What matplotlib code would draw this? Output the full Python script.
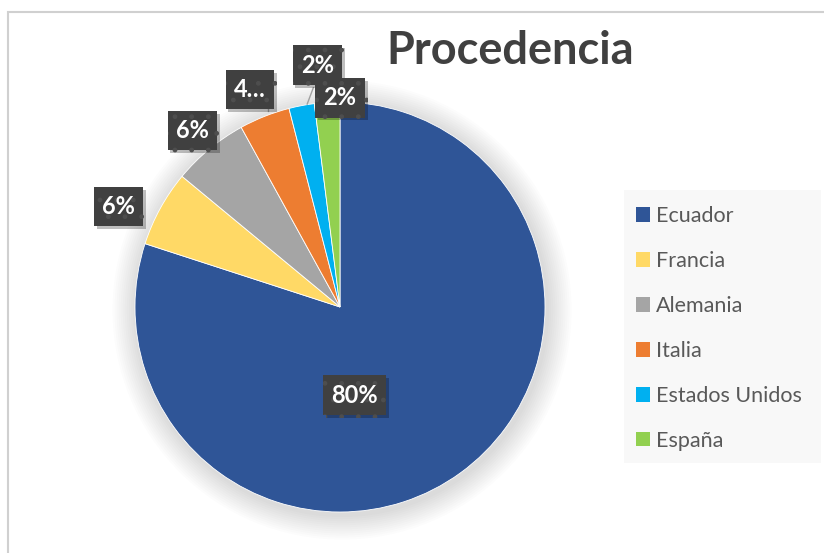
import numpy as np
import matplotlib
matplotlib.use("Agg")
import matplotlib.pyplot as plt
from matplotlib.patches import Rectangle, Patch
import matplotlib.patheffects as pe

plt.rcParams['font.family'] = ['Lato', 'DejaVu Sans']
plt.rcParams['hatch.linewidth'] = 1.0

# data
paises = ['Ecuador', 'Francia', 'Alemania', 'Italia', 'Estados Unidos', 'España']
valores = [80, 6, 6, 4, 2, 2]
etiquetas = ['80%', '6%', '6%', '4…', '2%', '2%']
colores = ['#2F5597', '#FFD966', '#A5A5A5', '#ED7D31', '#00B0F0', '#92D050']

# label positions in pie units (Excel "best fit" placement)
pos_etiquetas = [(0.07, -0.43), (-1.08, 0.49), (-0.72, 0.86),
                 (-0.44, 1.06), (-0.11, 1.18), (0.0, 1.02)]

fig = plt.figure(figsize=(8.24, 5.53), dpi=100)
fig.patch.set_facecolor('white')

# chart border
fig.patches.append(Rectangle((8 / 824, -0.1), 1.2, (553 - 12) / 553 + 0.1,
                             transform=fig.transFigure, fill=False,
                             edgecolor='#D0D0D0', linewidth=1.5))
# legend background
fig.patches.append(Rectangle((624 / 824, 1 - 463 / 553), 197 / 824, 273 / 553,
                             transform=fig.transFigure, facecolor='#F8F8F8',
                             edgecolor='none', zorder=0))

ax = fig.add_axes([135 / 824, 41 / 553, 410 / 824, 410 / 553])
ax.set_aspect('equal')

# soft shadow behind the pie
for i in range(12):
    ax.add_patch(plt.Circle((0.01, -0.015), 1.0 + 0.01 * (12 - i),
                            color='black', alpha=0.01, lw=0, zorder=0,
                            clip_on=False))

wedges, _ = ax.pie(valores, colors=colores, startangle=90, counterclock=False,
                   radius=1.0, wedgeprops=dict(edgecolor='white', linewidth=0.6))
for w in wedges:
    w.set_zorder(2)

ax.set_xlim(-1, 1)
ax.set_ylim(-1, 1)
ax.axis('off')

# leader lines for the small slices
ax.plot([-0.35, -0.35], [0.975, 0.955], color='#A0A0A0', lw=1, zorder=3, clip_on=False)
ax.plot([-0.13, -0.16], [1.07, 0.99], color='#A0A0A0', lw=1, zorder=3, clip_on=False)

for txt, (x, y) in zip(etiquetas, pos_etiquetas):
    t = ax.text(x, y, txt, ha='center', va='center', color='white',
                fontsize=17, fontweight='bold', zorder=5, clip_on=False,
                bbox=dict(boxstyle='square,pad=0.35', facecolor='#404040',
                          edgecolor='#4E4E4E', linewidth=0, hatch='.'))
    t.get_bbox_patch().set_path_effects([
        pe.SimplePatchShadow(offset=(2, -2), shadow_rgbFace='black', alpha=0.25),
        pe.Normal()])

fig.text(510 / 824, 1 - 51 / 553, 'Procedencia', ha='center', va='center',
         fontsize=32.5, fontweight='bold', color='#404040')

handles = [Patch(facecolor=c, edgecolor='none') for c in colores]
leg = fig.legend(handles, paises, loc='upper left',
                 bbox_to_anchor=(636 / 824, 1 - 206 / 553),
                 fontsize=15.5, frameon=False,
                 labelspacing=1.16, handlelength=0.65, handleheight=0.65,
                 handletextpad=0.28, borderpad=0, borderaxespad=0)
for t in leg.get_texts():
    t.set_color('#595959')

fig.savefig('out.png', dpi=100, facecolor='white')
